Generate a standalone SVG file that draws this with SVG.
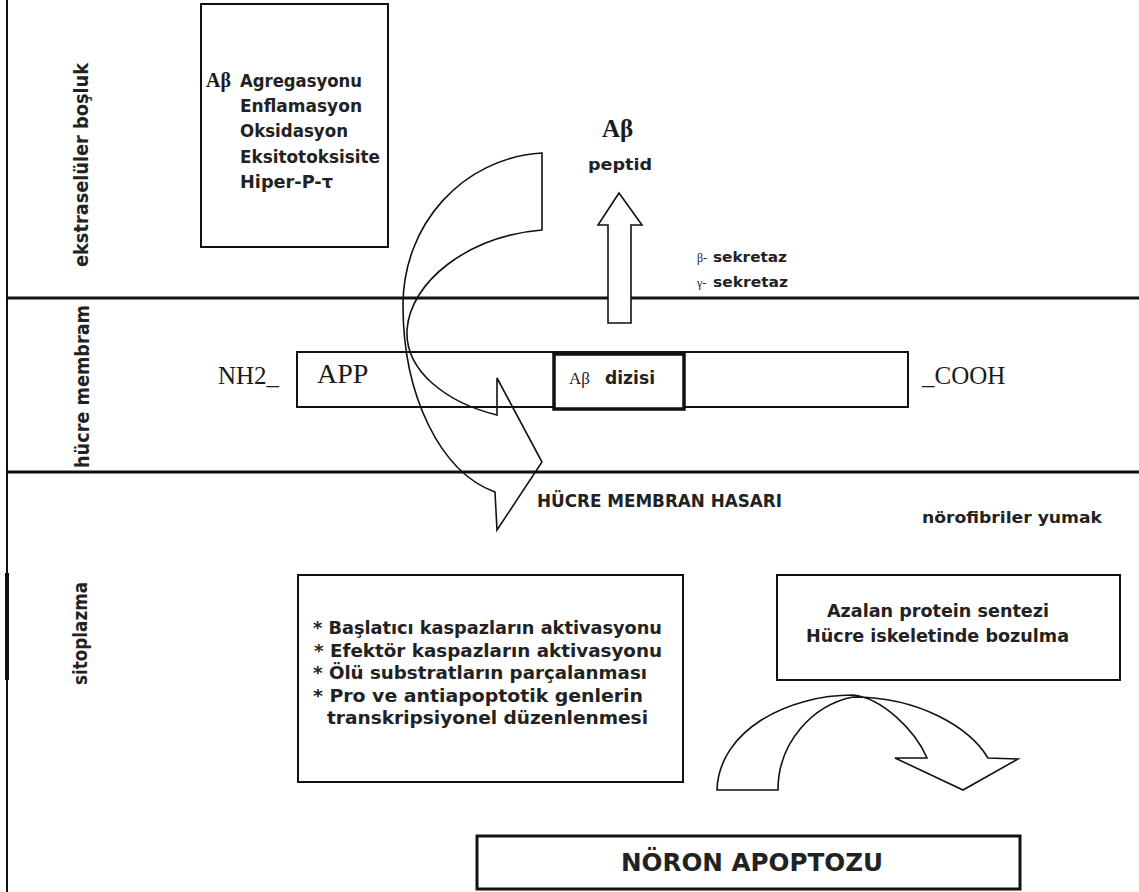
<svg xmlns="http://www.w3.org/2000/svg" width="1139" height="892" viewBox="0 0 1139 892">
<style>
.t{font-family:"DejaVu Sans Condensed","DejaVu Sans","Liberation Sans",sans-serif;font-weight:bold;fill:#222}
.s{font-family:"Liberation Serif","DejaVu Serif",serif;fill:#1a1a1a}
.box{fill:none;stroke:#111;stroke-width:2}
.ln{stroke:#111;stroke-width:3}
.arr{fill:none;stroke:#111;stroke-width:1.6;stroke-linejoin:miter}
</style>
<rect width="1139" height="892" fill="#fff"/>
<g id="layers">
<line class="ln" x1="7" y1="0" x2="7" y2="892" style="stroke-width:2"/>
<line class="ln" x1="7" y1="573" x2="7" y2="680" style="stroke-width:4"/>
<line class="ln" x1="6" y1="298" x2="1139" y2="298"/>
<line class="ln" x1="6" y1="472" x2="1139" y2="472"/>
<text class="t" font-size="20" transform="translate(88,267) rotate(-90)" textLength="204" lengthAdjust="spacingAndGlyphs">ekstraselüler boşluk</text>
<text class="t" font-size="20" transform="translate(89,468) rotate(-90)" textLength="163" lengthAdjust="spacingAndGlyphs">hücre membram</text>
<text class="t" font-size="19" transform="translate(87,685) rotate(-90)" textLength="103" lengthAdjust="spacingAndGlyphs">sitoplazma</text>
</g>
<g id="box-ab-effects">
<rect class="box" x="201" y="4" width="187" height="243"/>
<text class="s" font-size="20" font-weight="bold" x="206" y="87">Aβ</text>
<text class="t" font-size="17" x="240" y="87" textLength="122" lengthAdjust="spacingAndGlyphs">Agregasyonu</text>
<text class="t" font-size="17" x="240" y="112" textLength="122" lengthAdjust="spacingAndGlyphs">Enflamasyon</text>
<text class="t" font-size="17" x="240" y="137" textLength="108" lengthAdjust="spacingAndGlyphs">Oksidasyon</text>
<text class="t" font-size="17" x="240" y="163" textLength="140" lengthAdjust="spacingAndGlyphs">Eksitotoksisite</text>
<text class="t" font-size="17" x="240" y="188" textLength="93" lengthAdjust="spacingAndGlyphs">Hiper-P-τ</text>
</g>
<g id="ab-peptide">
<text class="s" font-size="25" font-weight="bold" x="602" y="137">Aβ</text>
<text class="t" font-size="16" x="588" y="170" textLength="64" lengthAdjust="spacingAndGlyphs">peptid</text>
</g>
<g id="secretases">
<text class="s" font-size="12" x="697" y="262">β-</text>
<text class="t" font-size="14" x="713" y="262" textLength="74" lengthAdjust="spacingAndGlyphs">sekretaz</text>
<text class="s" font-size="12" x="697" y="287">γ-</text>
<text class="t" font-size="14" x="713" y="287" textLength="75" lengthAdjust="spacingAndGlyphs">sekretaz</text>
</g>
<g id="app">
<rect class="box" x="297" y="352" width="611" height="55"/>
<text class="s" font-size="28" x="317" y="383">APP</text>
<text class="s" font-size="25" x="218" y="384">NH2_</text>
<text class="s" font-size="25" x="922" y="384">_COOH</text>
</g>
<g id="ab-dizisi">
<rect x="554" y="354" width="130" height="55" fill="#fff" stroke="#111" stroke-width="3.5"/>
<text class="s" font-size="17" x="569" y="384">Aβ</text>
<text class="t" font-size="17" x="605" y="384" textLength="50" lengthAdjust="spacingAndGlyphs">dizisi</text>
</g>
<g id="hasar">
<text class="t" font-size="17" x="537" y="507" textLength="245" lengthAdjust="spacingAndGlyphs">HÜCRE MEMBRAN HASARI</text>
</g>
<g id="norofibriler">
<text class="t" font-size="16" x="922" y="523" textLength="180" lengthAdjust="spacingAndGlyphs">nörofibriler yumak</text>
</g>
<g id="box-kaspaz">
<rect class="box" x="298" y="575" width="385" height="207"/>
<text class="t" font-size="17" x="313" y="634" textLength="349" lengthAdjust="spacingAndGlyphs">* Başlatıcı kaspazların aktivasyonu</text>
<text class="t" font-size="17" x="314" y="657" textLength="348" lengthAdjust="spacingAndGlyphs">* Efektör kaspazların aktivasyonu</text>
<text class="t" font-size="17" x="313" y="679" textLength="334" lengthAdjust="spacingAndGlyphs">* Ölü substratların parçalanması</text>
<text class="t" font-size="17" x="313" y="702" textLength="330" lengthAdjust="spacingAndGlyphs">* Pro ve antiapoptotik genlerin</text>
<text class="t" font-size="17" x="327" y="724" textLength="321" lengthAdjust="spacingAndGlyphs">transkripsiyonel düzenlenmesi</text>
</g>
<g id="box-protein">
<rect class="box" x="777" y="575" width="343" height="105"/>
<text class="t" font-size="17" x="827" y="617" textLength="222" lengthAdjust="spacingAndGlyphs">Azalan protein sentezi</text>
<text class="t" font-size="17" x="806" y="642" textLength="263" lengthAdjust="spacingAndGlyphs">Hücre iskeletinde bozulma</text>
</g>
<g id="box-apoptoz">
<rect class="box" x="477" y="836" width="543" height="53" style="stroke-width:3"/>
<text class="t" font-size="24" x="621" y="871" textLength="262" lengthAdjust="spacingAndGlyphs">NÖRON APOPTOZU</text>
</g>
<g id="connectors">
<path class="arr" d="M542,153 C462,158 403,225 403,305 C403,395 440,472 495,492 L497,530 L542,462 L497,378 L497,415 C448,403 405,372 407,330 C410,282 468,236 542,230 Z"/>
<path d="M619,193 L642,225 L631,225 L631,323 L608,323 L608,225 L598,225 Z" fill="#fff" stroke="#111" stroke-width="1.6"/>
<path class="arr" d="M717,790 C719,730 788,695 853,695 C882,698 915,730 927,758 L895,758 L963,790 L1018,759 L988,758 C970,728 920,697 853,697 C813,705 778,742 778,790 Z"/>
</g>
</svg>
